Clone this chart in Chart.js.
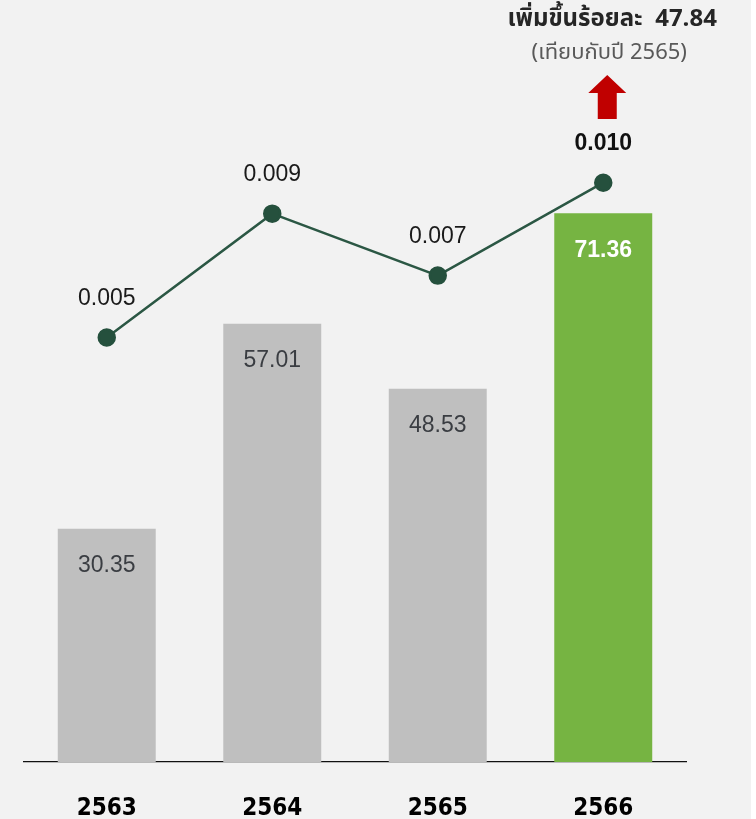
<!DOCTYPE html>
<html>
<head>
<meta charset="utf-8">
<script src="https://cdn.jsdelivr.net/npm/chart.js@4.4.1/dist/chart.umd.min.js"></script>
<style>
    html, body { margin: 0; padding: 0; background: #fff; }
    #wrap { width: 756px; height: 819px; }
</style>
</head>
<body>
<div id="wrap"><canvas id="chart" width="756" height="819"></canvas></div>
<script>
const years = ['2563', '2564', '2565', '2566'];
const barValues = [30.35, 57.01, 48.53, 71.36];
const lineValues = [0.005, 0.009, 0.007, 0.010];
const headline = 'เพิ่มขึ้นร้อยละ  47.84';
const subHeadline = '(เทียบกับปี 2565)';

(() => {
    const ctx = document.getElementById('chart').getContext('2d');
    const numFont = '"Liberation Sans", Arimo, Helvetica, Arial, sans-serif';
    const thaiFont = '"Noto Sans Thai", "Noto Sans", "Liberation Sans", sans-serif';

    const barColors = ['#bfbfbf', '#bfbfbf', '#bfbfbf', '#76b442'];
    const last = years.length - 1;

    const backgroundPlugin = {
        id: 'bg',
        beforeDraw(chart) {
            const c = chart.ctx;
            c.save();
            c.fillStyle = '#f2f2f2';
            c.fillRect(0, 0, 751, chart.height);
            c.restore();
        }
    };

    const labelPlugin = {
        id: 'labels',
        afterDatasetsDraw(chart) {
            const c = chart.ctx;
            c.save();
            c.textAlign = 'center';
            c.textBaseline = 'middle';

            // bar values inside the top of each bar
            chart.getDatasetMeta(0).data.forEach((bar, i) => {
                if (i === last) {
                    c.fillStyle = '#ffffff';
                    c.font = '600 23px ' + numFont;
                } else {
                    c.fillStyle = '#3a3d42';
                    c.font = '23px ' + numFont;
                }
                c.fillText(barValues[i].toFixed(2), bar.x, bar.y + 37);
            });

            // line values above each point
            chart.getDatasetMeta(1).data.forEach((pt, i) => {
                if (i === last) {
                    c.fillStyle = '#111';
                    c.font = 'bold 23px ' + numFont;
                } else {
                    c.fillStyle = '#1a1a1a';
                    c.font = '23px ' + numFont;
                }
                c.fillText(lineValues[i].toFixed(3), pt.x, pt.y - 39);
            });

            // red up arrow + headline over the last column
            const x = chart.scales.x.getPixelForValue(last) + 4;
            c.fillStyle = '#c00000';
            c.beginPath();
            c.moveTo(x, 75);
            c.lineTo(x + 19, 93);
            c.lineTo(x + 9.5, 93);
            c.lineTo(x + 9.5, 119);
            c.lineTo(x - 9.5, 119);
            c.lineTo(x - 9.5, 93);
            c.lineTo(x - 19, 93);
            c.closePath();
            c.fill();

            c.fillStyle = '#262626';
            c.font = 'bold 24px ' + thaiFont;
            c.fillText(headline, x + 5, 21);
            c.fillStyle = '#595959';
            c.font = '22px ' + thaiFont;
            c.fillText(subHeadline, x + 2, 55);
            c.restore();
        }
    };

    new Chart(ctx, {
        data: {
            labels: years,
            datasets: [
                {
                    type: 'bar',
                    data: barValues,
                    backgroundColor: barColors,
                    barPercentage: 0.592,
                    categoryPercentage: 1,
                    yAxisID: 'y',
                    order: 2,
                },
                {
                    type: 'line',
                    data: lineValues,
                    borderColor: '#2b5744',
                    borderWidth: 2.5,
                    pointRadius: 8,
                    pointBackgroundColor: '#25503d',
                    pointBorderColor: '#25503d',
                    yAxisID: 'y2',
                    order: 1,
                },
            ]
        },
        options: {
            responsive: false,
            animation: false,
            layout: { padding: { left: 24, right: 70, top: 130, bottom: 0 } },
            plugins: {
                legend: { display: false },
                tooltip: { enabled: false },
            },
            scales: {
                x: {
                    grid: { display: false, drawTicks: false },
                    border: { display: true, color: '#111', width: 1.3 },
                    ticks: {
                        color: '#000',
                        padding: 32,
                        font: { family: '"DejaVu Sans Condensed", "DejaVu Sans", sans-serif', size: 24, weight: 'bold' },
                    },
                    afterFit: scale => { scale.height = 57; },
                },
                y: { display: false, min: 0, max: 82.2 },
                y2: { display: false, min: -0.0087, max: 0.0117 },
            }
        },
        plugins: [backgroundPlugin, labelPlugin]
    });
})();
</script>
</body>
</html>
